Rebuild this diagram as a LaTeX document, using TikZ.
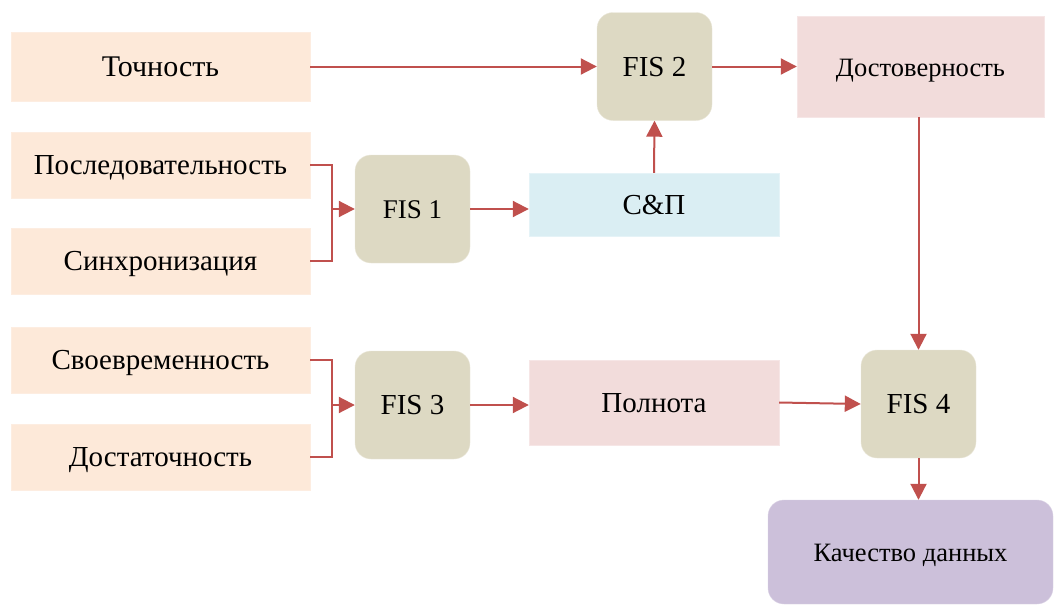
\documentclass[tikz,border=0pt]{standalone}
\usepackage{fontspec}
\setmainfont{Liberation Serif}
\usetikzlibrary{arrows.meta}
\definecolor{peach}{HTML}{FDE9D9}
\definecolor{khaki}{HTML}{DDD9C3}
\definecolor{lblue}{HTML}{DAEEF3}
\definecolor{lpink}{HTML}{F2DCDB}
\definecolor{lav}{HTML}{CCC0DA}
\definecolor{arr}{HTML}{C0504D}
\tikzset{
  every node/.style={text height=19.5pt, text depth=0pt},
  inbox/.style={fill=peach, draw=peach!80!white, minimum width=299pt, minimum height=66pt, inner sep=0pt, font=\fontsize{29}{32}\selectfont},
  fisbox/.style={fill=khaki, draw=khaki!60!white, rounded corners=16pt, minimum width=115pt, minimum height=108pt, inner sep=0pt, font=\fontsize{29}{32}\selectfont},
  midbox/.style={minimum width=250pt, inner sep=0pt, font=\fontsize{29}{32}\selectfont},
  conn/.style={draw=arr, line width=2pt, -{Triangle[length=16pt,width=16pt]}},
  plain/.style={draw=arr, line width=2pt}
}
\begin{document}
\begin{tikzpicture}[x=1pt,y=-1pt]
\useasboundingbox (0,0) rectangle (1054,605);
\node[inbox, minimum height=69pt, font=\fontsize{30}{33}\selectfont] (toch) at (160.5,66.5) {Точность};
\node[inbox] (posl) at (160.5,165) {Последовательность};
\node[inbox] (sinh) at (160.5,261) {Синхронизация};
\node[inbox] (svoe) at (160.5,360) {Своевременность};
\node[inbox] (dost) at (160.5,457) {Достаточность};

\node[fisbox, font=\fontsize{27}{30}\selectfont] (fis1) at (412.5,209) {FIS 1};
\node[fisbox] (fis2) at (654.5,66.5) {FIS 2};
\node[fisbox] (fis3) at (412.5,405) {FIS 3};
\node[fisbox] (fis4) at (918.5,404) {FIS 4};

\node[midbox, fill=lblue, draw=lblue!70!white, minimum height=63pt] (sp) at (654,204.5) {С\&П};
\node[midbox, fill=lpink, draw=lpink!70!white, minimum height=85pt] (poln) at (654,402.5) {Полнота};
\node[fill=lpink, draw=lpink!70!white, minimum width=247pt, minimum height=101pt, inner sep=0pt, font=\fontsize{26.5}{30}\selectfont] (dostov) at (920.5,66.5) {Достоверность};
\node[fill=lav, draw=lav!70!white, rounded corners=16pt, minimum width=285pt, minimum height=104pt, inner sep=0pt, font=\fontsize{26.5}{30}\selectfont] (kach) at (910.5,552) {Качество данных};

\coordinate (j1) at (332,209);
\coordinate (j3) at (332,405);
\draw[plain] (posl.east) -| (j1) |- (sinh.east);
\draw[conn] (j1) -- (fis1.west);
\draw[plain] (svoe.east) -| (j3) |- (dost.east);
\draw[conn] (j3) -- (fis3.west);

\draw[conn] (toch.east) -- (fis2.west);
\draw[conn] (fis2.east) -- (dostov.west);
\draw[conn] (fis1.east) -- (fis1.east -| sp.west);
\draw[conn] (sp.north) -- (fis2.south);
\draw[conn] (dostov.south -| fis4.north) -- (fis4.north);
\draw[conn] (fis3.east) -- (fis3.east -| poln.west);
\draw[conn] (poln.east) -- (fis4.west);
\draw[conn] (fis4.south) -- (fis4.south |- kach.north);
\end{tikzpicture}
\end{document}
